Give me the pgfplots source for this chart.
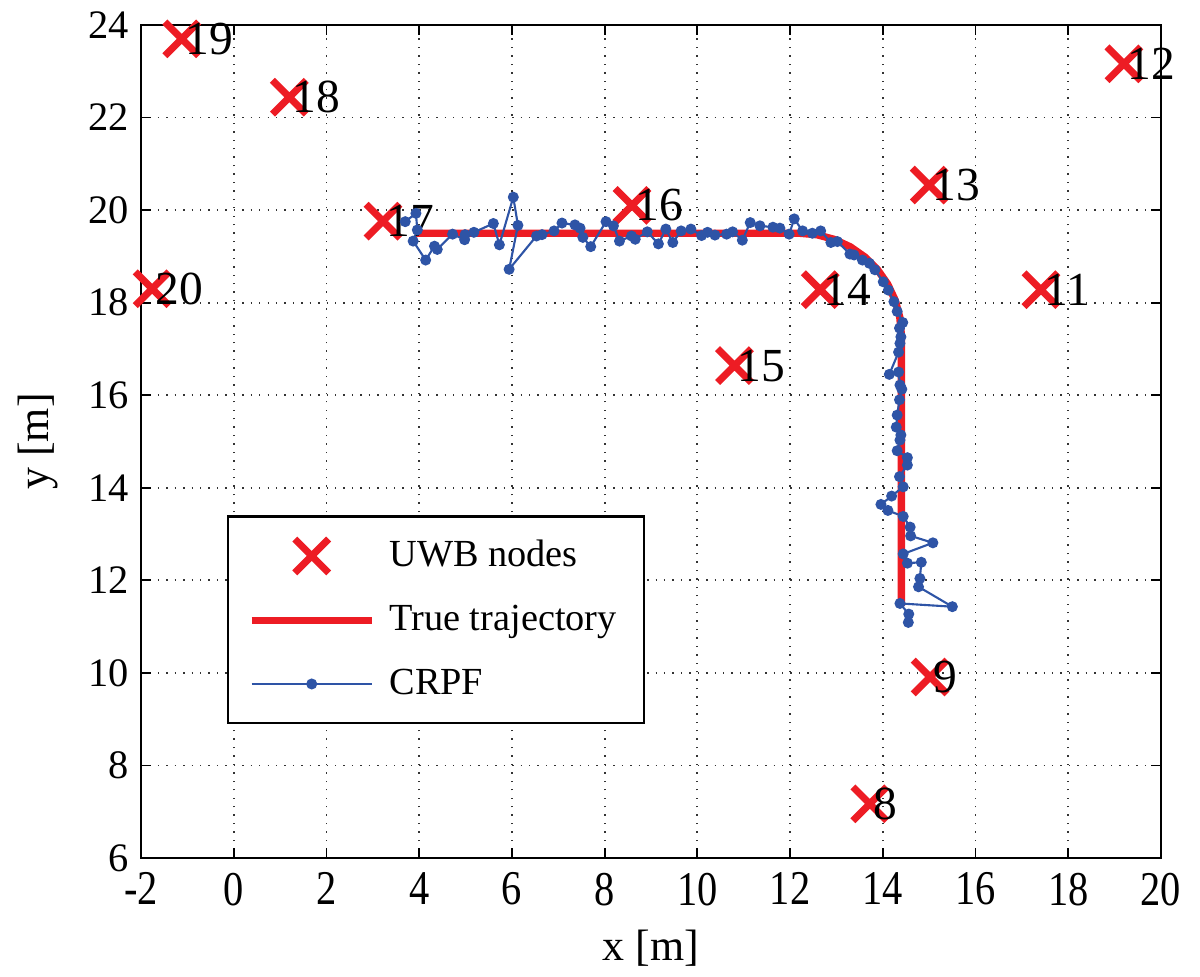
\documentclass[border=0pt]{standalone}
\usepackage{fontspec}
\setmainfont{Liberation Serif}
\usepackage{pgfplots}
\usepackage{pgfplotstable}
\pgfplotsset{compat=1.18}
\definecolor{tred}{RGB}{237,28,36}
\definecolor{cblue}{RGB}{46,84,166}

\pgfplotstableread{
x y lab
-1.12 23.70 19
1.20 22.44 18
3.22 19.76 17
-1.76 18.30 20
8.59 20.10 16
10.80 16.64 15
12.65 18.28 14
15.00 20.54 13
17.41 18.28 11
19.20 23.16 12
15.02 9.91 9
13.72 7.17 8
}\nodes

\pgfplotstableread{
x y
3.90 19.50
12.20 19.50
12.582 19.467
12.952 19.367
13.300 19.205
13.614 18.985
13.885 18.714
14.105 18.400
14.267 18.052
14.367 17.682
14.400 17.300
14.400 11.45
}\truetraj

\pgfplotstableread{
x y
3.70 19.75
3.93 19.93
3.96 19.57
3.87 19.33
4.14 18.92
4.33 19.22
4.39 19.15
4.72 19.48
4.98 19.36
4.99 19.47
5.18 19.52
5.60 19.71
5.73 19.25
6.03 20.28
6.13 19.67
5.94 18.72
6.53 19.44
6.65 19.47
6.91 19.55
7.08 19.72
7.36 19.68
7.47 19.61
7.53 19.41
7.70 19.21
8.03 19.75
8.19 19.66
8.32 19.33
8.58 19.44
8.66 19.37
8.92 19.53
9.16 19.27
9.32 19.59
9.47 19.30
9.65 19.55
9.86 19.59
10.09 19.45
10.22 19.52
10.38 19.46
10.63 19.48
10.76 19.53
10.97 19.35
11.14 19.73
11.35 19.66
11.63 19.63
11.78 19.61
11.98 19.48
12.09 19.81
12.27 19.55
12.48 19.50
12.66 19.55
12.88 19.30
13.02 19.32
13.29 19.05
13.38 19.03
13.56 18.92
13.71 18.85
13.83 18.71
14.01 18.45
14.12 18.27
14.24 18.02
14.31 17.81
14.43 17.57
14.36 17.45
14.39 17.26
14.37 17.12
14.34 16.93
14.14 16.45
14.34 16.50
14.37 16.22
14.41 16.13
14.36 15.90
14.31 15.57
14.29 15.31
14.39 15.14
14.37 15.03
14.31 14.80
14.53 14.65
14.53 14.49
14.36 14.24
14.44 14.02
14.19 13.82
13.96 13.64
14.11 13.51
14.44 13.38
14.59 13.15
14.60 12.96
15.08 12.81
14.44 12.57
14.53 12.37
14.83 12.39
14.80 12.04
14.77 11.86
15.50 11.43
14.37 11.50
14.56 11.27
14.55 11.09
}\crpf

\begin{document}
\begin{tikzpicture}
\begin{axis}[
  scale only axis,
  width=10.2cm, height=8.33cm,
  xmin=-2, xmax=20, ymin=6, ymax=24,
  xtick={-2,0,...,20}, ytick={6,8,...,24},
  grid=major,
  major grid style={black!80, dotted, line width=0.5pt},
  tick align=inside,
  major tick length=0.1cm,
  axis line style={black, line width=0.6pt},
  tick style={black, line width=0.5pt},
  /pgf/number format/assume math mode=true,
  tick label style={font=\fontsize{11.5}{13}\selectfont},
  xticklabel style={yscale=1.2},
  xlabel={x [m]}, ylabel={y [m]},
  label style={font=\fontsize{12.5}{14}\selectfont},
  x label style={at={(axis description cs:0.5,-0.108)}, anchor=center},
  y label style={at={(axis description cs:-0.101,0.5)}, anchor=center, rotate=0},
  legend cell align=left,
  legend style={at={(rel axis cs:0.0843,0.161)}, anchor=south west,
    draw=black, line width=0.6pt, fill=white,
    font=\fontsize{10.9}{13}\selectfont,
    row sep=0.19cm, inner xsep=0.2cm, inner ysep=0.165cm,
    /tikz/every odd column/.append style={column sep=0.07cm}},
  legend image code/.code={\draw[mark repeat=2,mark phase=2,#1] plot coordinates {(0cm,0cm) (0.6cm,0cm) (1.2cm,0cm)};},
]
\addplot[only marks, mark=x, mark size=6.8pt, tred, line width=2pt,
  point meta=explicit symbolic,
  nodes near coords,
  nodes near coords style={anchor=west, inner xsep=0pt, black, font=\fontsize{13.5}{15}\selectfont}]
  table[x=x, y=y, meta=lab] {\nodes};
\addlegendentry{UWB nodes}
\addplot[tred, line width=2.1pt, no marks] table[x=x, y=y] {\truetraj};
\addlegendentry{True trajectory\hspace{0.2cm}}
\addplot[cblue, line width=0.6pt, mark=*, mark size=1.25pt, mark options={fill=cblue, draw=cblue}] table[x=x, y=y] {\crpf};
\addlegendentry{CRPF}
\coordinate (bl) at (rel axis cs:0,0);
\coordinate (tr) at (rel axis cs:1,1);
\end{axis}
\pgfresetboundingbox
\path[use as bounding box] ([xshift=-1.41cm,yshift=-1.19cm]bl) rectangle ([xshift=0.39cm,yshift=0.25cm]tr);
\end{tikzpicture}
\end{document}
